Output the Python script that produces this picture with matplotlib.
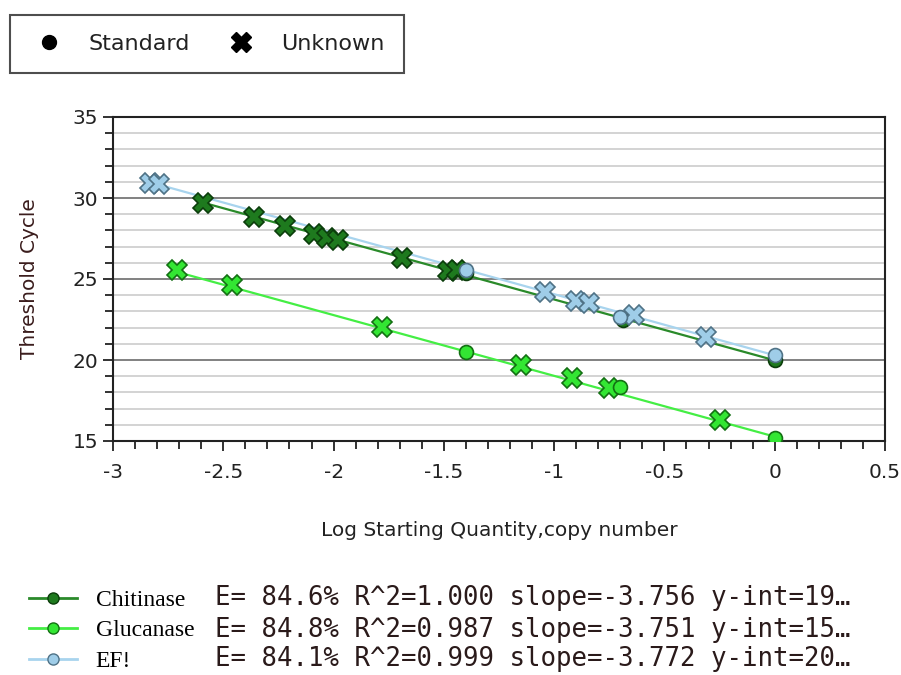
import numpy as np
import matplotlib.pyplot as plt
from matplotlib.lines import Line2D
from matplotlib.ticker import MultipleLocator

# Data
names = ['Chitinase', 'Glucanase', 'EF!']

chi_std_x = [-1.40, -0.69, 0.0]
chi_std_y = [25.35, 22.5, 20.0]
chi_unk_x = [-2.59, -2.36, -2.22, -2.09, -2.03, -1.98, -1.69, -1.48, -1.44]
chi_unk_y = [29.7, 28.8, 28.25, 27.75, 27.55, 27.4, 26.3, 25.5, 25.55]

glu_std_x = [-1.40, -0.70, 0.0]
glu_std_y = [20.47, 18.35, 15.2]
glu_unk_x = [-2.71, -2.46, -1.78, -1.15, -0.92, -0.75, -0.25]
glu_unk_y = [25.55, 24.6, 22.05, 19.69, 18.87, 18.25, 16.3]

ef_std_x = [-1.40, -0.70, 0.0]
ef_std_y = [25.55, 22.65, 20.3]
ef_unk_x = [-2.83, -2.79, -1.04, -0.90, -0.84, -0.64, -0.31]
ef_unk_y = [30.95, 30.85, 24.2, 23.65, 23.5, 22.75, 21.45]

efficiency = ['84.6%', '84.8%', '84.1%']
r_squared = ['1.000', '0.987', '0.999']
slopes = [-3.756, -3.751, -3.772]
intercepts = [19.98, 15.27, 20.29]
yint_labels = ['19…', '15…', '20…']

fills = ['#1e7a1e', '#33e633', '#9fcde8']
edges = ['#0b3d0b', '#137013', '#4f7286']
lines = ['#2a8a2a', '#44ee44', '#a8d4ee']

series = [
    (chi_std_x, chi_std_y, chi_unk_x, chi_unk_y),
    (glu_std_x, glu_std_y, glu_unk_x, glu_unk_y),
    (ef_std_x, ef_std_y, ef_unk_x, ef_unk_y),
]

fig = plt.figure(figsize=(9.01, 6.75), dpi=100)
ax = fig.add_axes([113 / 901, 1 - 441 / 675, (885 - 113) / 901, (441 - 117) / 675])

# draw order: glucanase, chitinase, EF on top
for i in [1, 0, 2]:
    sx, sy, ux, uy = series[i]
    all_x = np.array(sx + ux)
    xs = np.array([all_x.min(), all_x.max()])
    ax.plot(xs, slopes[i] * xs + intercepts[i], color=lines[i], lw=1.6, zorder=2)
    ax.plot(ux, uy, 'X', ms=15, color=fills[i], mec=edges[i], mew=1.2, zorder=3)
    ax.plot(sx, sy, 'o', ms=10, color=fills[i], mec=edges[i], mew=1.2, zorder=3)

ax.set_xlim(-3, 0.5)
ax.set_ylim(15, 35)
ax.xaxis.set_minor_locator(MultipleLocator(0.1))
ax.yaxis.set_major_locator(MultipleLocator(5))
ax.yaxis.set_minor_locator(MultipleLocator(1))
ax.set_xticks(np.arange(-3, 0.51, 0.5))
ax.set_xticklabels(['-3', '-2.5', '-2', '-1.5', '-1', '-0.5', '0', '0.5'])
ax.grid(which='minor', axis='y', color='#cccccc', lw=1.2)
ax.grid(which='major', axis='y', color='#777777', lw=1.3)
ax.set_axisbelow(True)
for s in ax.spines.values():
    s.set_linewidth(1.5)
    s.set_color('#222222')
ax.tick_params(which='both', direction='out', width=1.3, color='#222222')
ax.tick_params(which='major', length=7, labelsize=14.5, labelcolor='#222222')
ax.tick_params(which='minor', length=6)
ax.tick_params(axis='x', which='major', pad=9)

ax.set_xlabel('Log Starting Quantity,copy number', fontsize=14.5, color='#222222', labelpad=28)
ax.set_ylabel('Threshold Cycle', fontsize=14.5, color='#3a1c1c', labelpad=24)

# top legend: standard / unknown
top_handles = [
    Line2D([], [], ls='none', marker='o', ms=10, color='black'),
    Line2D([], [], ls='none', marker='X', ms=15, color='black'),
]
leg = fig.legend(top_handles, ['Standard', 'Unknown'], loc='upper left',
                 bbox_to_anchor=(10 / 901, 1 - 15 / 675), ncol=2, fontsize=16,
                 frameon=True, fancybox=False, edgecolor='#222222',
                 handletextpad=0.9, columnspacing=1.4, borderpad=0.85,
                 handlelength=1.8, borderaxespad=0)
leg.get_frame().set_linewidth(1.5)
for t in leg.get_texts():
    t.set_color('#222222')

# bottom legend: gene series
gene_handles = [Line2D([], [], color=lines[i], lw=2, marker='o', ms=8,
                       mfc=fills[i], mec=edges[i]) for i in range(3)]
leg2 = fig.legend(gene_handles, names, loc='upper left',
                  bbox_to_anchor=(20 / 901, 1 - 580 / 675),
                  frameon=False, handlelength=2.0, handletextpad=0.8,
                  labelspacing=0.38, borderaxespad=0,
                  prop={'family': 'Liberation Serif', 'size': 17})

row_y = [598, 630, 659]
for i in range(3):
    txt = 'E= {} R^2={} slope={:.3f} y-int={}'.format(
        efficiency[i], r_squared[i], slopes[i], yint_labels[i])
    fig.text(215 / 901, 1 - row_y[i] / 675, txt, fontsize=18.5,
             family='DejaVu Sans Mono', color='#2a1a1a', va='center', ha='left')

fig.savefig('out.png', dpi=100)
